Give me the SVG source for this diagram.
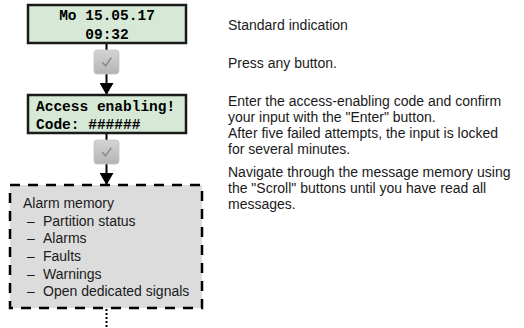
<svg xmlns="http://www.w3.org/2000/svg" width="524" height="328" viewBox="0 0 524 328">
<defs>
<linearGradient id="chk" x1="0" y1="0" x2="0" y2="1">
<stop offset="0" stop-color="#d4d4d4"/>
<stop offset="1" stop-color="#b4b4b4"/>
</linearGradient>
<marker id="ah" viewBox="0 0 12 14" refX="12" refY="7" markerWidth="12" markerHeight="14" markerUnits="userSpaceOnUse" orient="auto">
<path d="M0,0 L12,7 L0,14 Z" fill="#000"/>
</marker>
<g id="checkicon">
<rect x="0" y="0" width="25" height="24" rx="3" fill="url(#chk)" stroke="#c4c4c4" stroke-width="0.8"/>
<path d="M8.5,12.5 L11.5,16 L17,8" fill="none" stroke="#8a8a8a" stroke-width="1.4" stroke-linecap="round" stroke-linejoin="round"/>
</g>
</defs>
<style>
.lcd{fill:#d6e9d6;stroke:#1a1a1a;stroke-width:2.5}
.lcdt{font-family:"Liberation Mono","Courier New",monospace;font-weight:bold;font-size:14.5px;fill:#000}
.desc{font-family:"Liberation Sans",Arial,sans-serif;font-size:14px;fill:#1a1a1a}
.mem{font-family:"Liberation Sans",Arial,sans-serif;font-size:14px;fill:#1a1a1a}
.conn{stroke:#000;stroke-width:2;fill:none}
</style>

<g id="connectors">
<line class="conn" x1="106.5" y1="43" x2="106.5" y2="50"/>
<line class="conn" x1="106.5" y1="74" x2="106.5" y2="95" marker-end="url(#ah)"/>
<line class="conn" x1="106.5" y1="133" x2="106.5" y2="140"/>
<line class="conn" x1="106.5" y1="164" x2="106.5" y2="185" marker-end="url(#ah)"/>
<line class="conn" x1="106.5" y1="309" x2="106.5" y2="328" stroke-dasharray="2 2"/>
</g>

<g id="node-standard">
<rect class="lcd" x="28" y="5" width="158" height="38"/>
<text class="lcdt" x="107" y="20" text-anchor="middle">Mo 15.05.17</text>
<text class="lcdt" x="107" y="39" text-anchor="middle">09:32</text>
</g>

<g id="node-check1">
<use href="#checkicon" x="94" y="50"/>
</g>

<g id="node-access">
<rect class="lcd" x="28" y="95" width="158" height="38"/>
<text class="lcdt" x="36" y="110.5">Access enabling!</text>
<text class="lcdt" x="36" y="129">Code: ######</text>
</g>

<g id="node-check2">
<use href="#checkicon" x="94" y="140"/>
</g>

<g id="node-alarm-memory">
<rect x="10" y="185" width="192" height="123" fill="#dcdcdc" stroke="#000" stroke-width="2.5" stroke-dasharray="10 8"/>
<text class="mem" x="23" y="208">Alarm memory</text>
<text class="mem" x="27" y="225.5">–</text><text class="mem" x="43" y="225.5">Partition status</text>
<text class="mem" x="27" y="243">–</text><text class="mem" x="43" y="243">Alarms</text>
<text class="mem" x="27" y="261">–</text><text class="mem" x="43" y="261">Faults</text>
<text class="mem" x="27" y="278.5">–</text><text class="mem" x="43" y="278.5">Warnings</text>
<text class="mem" x="27" y="296">–</text><text class="mem" x="43" y="296">Open dedicated signals</text>
</g>

<g id="descriptions">
<text class="desc" x="228" y="30">Standard indication</text>
<text class="desc" x="228" y="68">Press any button.</text>
<text class="desc" x="228" y="106">Enter the access-enabling code and confirm</text>
<text class="desc" x="228" y="122">your input with the "Enter" button.</text>
<text class="desc" x="228" y="138">After five failed attempts, the input is locked</text>
<text class="desc" x="228" y="154">for several minutes.</text>
<text class="desc" x="228" y="177">Navigate through the message memory using</text>
<text class="desc" x="228" y="193">the "Scroll" buttons until you have read all</text>
<text class="desc" x="228" y="209">messages.</text>
</g>
</svg>
